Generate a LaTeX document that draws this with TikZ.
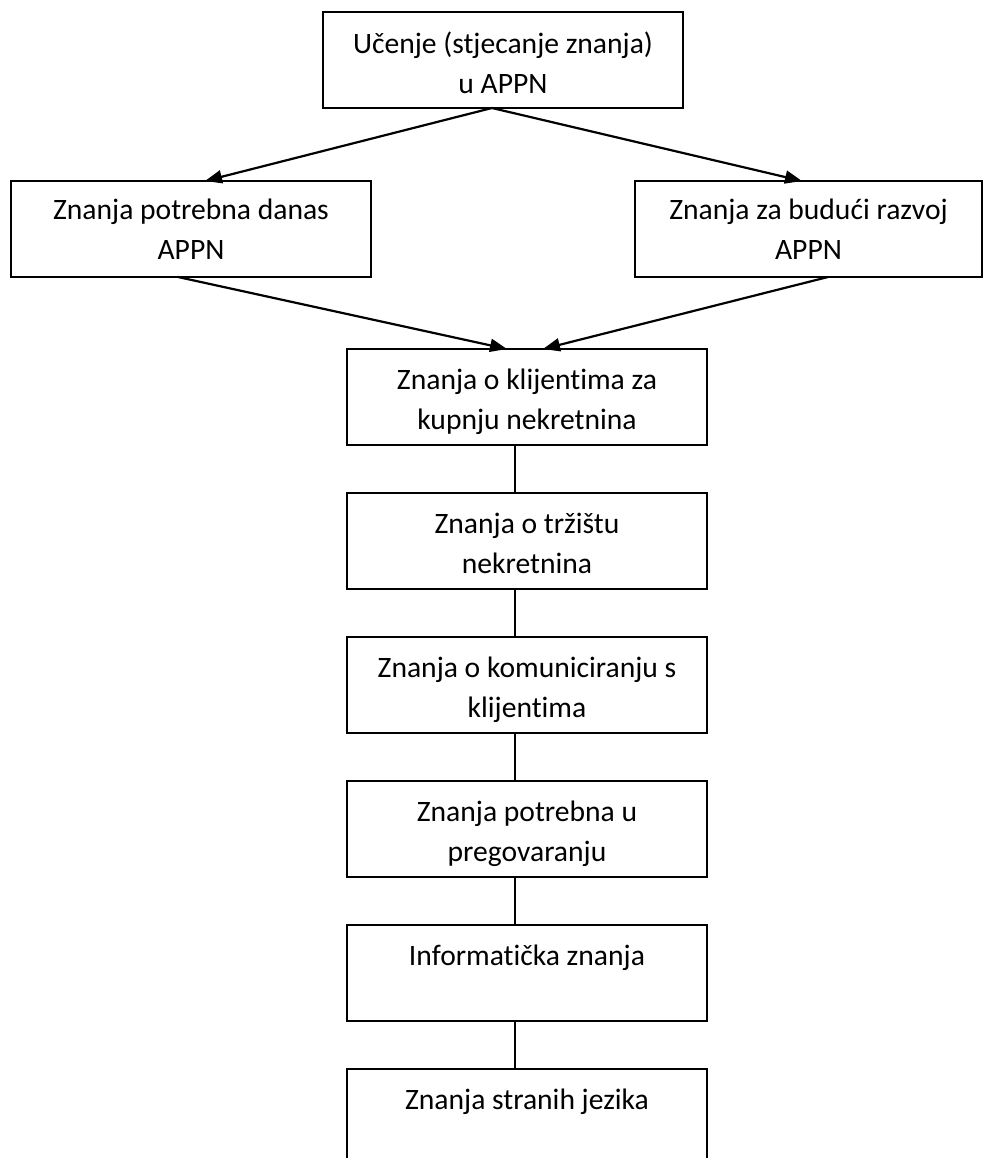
\documentclass[tikz,border=0pt]{standalone}
\usepackage{fontspec}
\setmainfont{Carlito}[Ligatures=NoCommon]
\usetikzlibrary{arrows.meta,calc}
\begin{document}
\begin{tikzpicture}[x=0.5pt,y=-0.5pt,
  box/.style={draw, line width=1.1pt, anchor=north west, inner sep=0pt, outer sep=0pt, minimum height=48pt},
  cbox/.style={box, minimum width=180pt},
  lbl/.style={anchor=base, inner sep=0pt, font=\fontsize{14.8pt}{20pt}\selectfont},
  link/.style={line width=1.1pt},
  arr/.style={link, -{Triangle[length=8.5pt,width=6.5pt]}}]
\fill[white] (0,0) rectangle (983,1158);
\useasboundingbox (0,0) rectangle (983,1158);
\begin{scope}
\clip (0,0) rectangle (983,1158);

% boxes
\node[box, minimum width=180pt] (top) at (323,12) {};
\node[box, minimum width=180pt] (left) at (11,181) {};
\node[box, minimum width=173.5pt] (right) at (635,181) {};
\node[cbox] (b3) at (347,349) {};
\node[cbox] (b4) at (347,493) {};
\node[cbox] (b5) at (347,637) {};
\node[cbox] (b6) at (347,781) {};
\node[cbox] (b7) at (347,925) {};
\node[cbox, minimum height=60pt] (b8) at (347,1069) {};

% labels
\node[lbl] (ttop) at ($(top.north)+(0,41)$) {\begin{tabular}[t]{@{}c@{}}Učenje (stjecanje znanja)\\u APPN\end{tabular}};
\node[lbl] (tleft) at ($(left.north)+(0,38)$) {\begin{tabular}[t]{@{}c@{}}Znanja potrebna danas\\APPN\end{tabular}};
\node[lbl] (tright) at ($(right.north)+(0,38)$) {\begin{tabular}[t]{@{}c@{}}Znanja za budući razvoj\\APPN\end{tabular}};
\node[lbl] (t3) at ($(b3.north)+(0,40)$) {\begin{tabular}[t]{@{}c@{}}Znanja o klijentima za\\kupnju nekretnina\end{tabular}};
\node[lbl] (t4) at ($(b4.north)+(0,40)$) {\begin{tabular}[t]{@{}c@{}}Znanja o tržištu\\nekretnina\end{tabular}};
\node[lbl] (t5) at ($(b5.north)+(0,40)$) {\begin{tabular}[t]{@{}c@{}}Znanja o komuniciranju s\\klijentima\end{tabular}};
\node[lbl] (t6) at ($(b6.north)+(0,40)$) {\begin{tabular}[t]{@{}c@{}}Znanja potrebna u\\pregovaranju\end{tabular}};
\node[lbl] (t7) at ($(b7.north)+(0,40)$) {Informatička znanja};
\node[lbl] (t8) at ($(b8.north)+(0,40)$) {Znanja stranih jezika};

% connectors
\draw[arr] ($(top.south)+(-11,0)$) -- ($(left.north)+(14,0)$);
\draw[arr] ($(top.south)+(-11,0)$) -- ($(right.north)+(-6.5,0)$);
\draw[arr] ($(left.south)+(-13,0)$) -- ($(b3.north)+(-20,0)$);
\draw[arr] ($(right.south)+(19.5,0)$) -- ($(b3.north)+(16,0)$);
\draw[link] ($(b3.south)+(-12,0)$) -- ($(b4.north)+(-12,0)$);
\draw[link] ($(b4.south)+(-12,0)$) -- ($(b5.north)+(-12,0)$);
\draw[link] ($(b5.south)+(-12,0)$) -- ($(b6.north)+(-12,0)$);
\draw[link] ($(b6.south)+(-12,0)$) -- ($(b7.north)+(-12,0)$);
\draw[link] ($(b7.south)+(-12,0)$) -- ($(b8.north)+(-12,0)$);
\end{scope}
\end{tikzpicture}
\end{document}
